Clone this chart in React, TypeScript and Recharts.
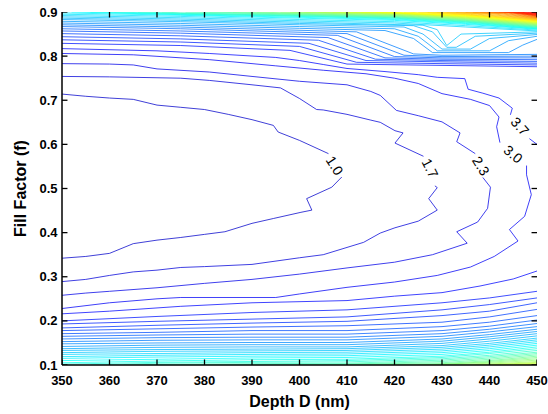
import React from "react";
import { LineChart, Line, XAxis, YAxis, ReferenceDot } from "recharts";

type Pt = [number, number | null];
type Contour = { k: number; pts: Pt[] };

const depthTicks = [350, 360, 370, 380, 390, 400, 410, 420, 430, 440, 450];
const fillTicks = [0.1, 0.2, 0.3, 0.4, 0.5, 0.6, 0.7, 0.8, 0.9];
// contour level index k (1.0, 1.7, 2.3, ...) mapped onto the jet colour map
const levelOffset = 5;
const levelSteps = 69;

// labelled C-shaped contours around the low region (null = label gap)
const innerContours: Contour[] = [
  { k: 0, pts: [[350, 0.714], [355, 0.709], [360, 0.705], [365, 0.702], [370, 0.689], [375, 0.684], [380, 0.679], [385, 0.668], [390, 0.656], [394.5, 0.643], [395.5, 0.628], [400, 0.609], [406.1, 0.579], [407.5, null], [408.9, 0.526], [406.8, 0.503], [401.5, 0.477], [402.6, 0.451], [400.3, 0.446], [394.5, 0.432], [390, 0.421], [384.3, 0.402], [380, 0.396], [375, 0.389], [370, 0.383], [365, 0.375], [360, 0.353], [355, 0.346], [350, 0.342]] },
  { k: 1, pts: [[350, 0.754], [360, 0.753], [375, 0.75], [381, 0.745], [390, 0.735], [396, 0.728], [400, 0.704], [403.6, 0.679], [405, 0.678], [410, 0.668], [415, 0.655], [417, 0.65], [420.1, 0.631], [421.8, 0.626], [420.1, 0.603], [426.1, 0.573], [427.5, null], [428.5, 0.506], [429, 0.502], [427.2, 0.477], [429, 0.451], [425, 0.426], [420.1, 0.411], [417, 0.399], [413.5, 0.378], [405, 0.35], [400, 0.343], [390, 0.328], [380, 0.323], [375, 0.321], [370, 0.315], [365, 0.311], [360, 0.303], [355, 0.294], [350, 0.289]] },
  { k: 2, pts: [[350, 0.783], [360, 0.782], [365, 0.78], [370, 0.771], [381, 0.764], [390, 0.754], [400, 0.743], [410, 0.735], [415, 0.72], [417, 0.711], [420.4, 0.677], [425, 0.665], [430, 0.651], [433.8, 0.626], [433.1, 0.606], [437, 0.579], [438, null], [438.6, 0.525], [440.2, 0.503], [439.6, 0.455], [437.5, 0.424], [433.1, 0.402], [435.3, 0.376], [428, 0.35], [420, 0.333], [410, 0.32], [400, 0.306], [390, 0.294], [380, 0.285], [370, 0.275], [360, 0.267], [355, 0.263], [350, 0.258]] },
  { k: 3, pts: [[350, 0.806], [365, 0.803], [381, 0.792], [395, 0.778], [405, 0.768], [414, 0.76], [420, 0.75], [425, 0.738], [430, 0.715], [436, 0.702], [440, 0.688], [442, 0.662], [441.5, 0.64], [442.2, 0.604], [445, null], [447.8, 0.552], [447.8, 0.531], [448.8, 0.486], [447.4, 0.437], [444.2, 0.407], [446, 0.381], [441, 0.346], [436, 0.322], [429, 0.303], [420, 0.288], [410, 0.276], [400, 0.261], [395, 0.253], [375, 0.253], [370, 0.25], [360, 0.241], [350, 0.228]] },
  { k: 4, pts: [[350, 0.817], [370, 0.812], [381, 0.806], [395, 0.797], [400, 0.79], [405, 0.781], [410, 0.772], [418, 0.765], [425, 0.758], [429, 0.752], [434.8, 0.749], [435.5, 0.725], [438.6, 0.716], [442, 0.705], [444.8, 0.682], [444.4, 0.667], [446.5, null], [448.4, 0.613], [450, 0.6]] },
  { k: 4, pts: [[350, 0.216], [360, 0.222], [375, 0.233], [390, 0.241], [410, 0.246], [420, 0.256], [430, 0.264], [438, 0.279], [445, 0.295], [450, 0.313]] },
];

// upper band: lines from the left edge, dropping into the 0.78-0.80 band or chevrons at right
const upperBand: Contour[] = [
  { k: 5, pts: [[350, 0.829], [375, 0.824], [398, 0.813], [410, 0.782], [430, 0.779], [450, 0.776]] },
  { k: 6, pts: [[350, 0.837], [375, 0.832], [400, 0.822], [412, 0.786], [430, 0.783], [450, 0.78]] },
  { k: 7, pts: [[350, 0.844], [375, 0.839], [402, 0.829], [414, 0.79], [430, 0.787], [450, 0.784]] },
  { k: 8, pts: [[350, 0.851], [375, 0.846], [404, 0.836], [416, 0.793], [430, 0.79], [450, 0.788]] },
  { k: 9, pts: [[350, 0.857], [375, 0.852], [406, 0.842], [418, 0.796], [430, 0.793], [450, 0.792]] },
  { k: 10, pts: [[350, 0.862], [375, 0.857], [408, 0.847], [420, 0.799], [430, 0.796], [450, 0.796]] },
  { k: 11, pts: [[350, 0.867], [375, 0.862], [410, 0.851], [422, 0.802], [430, 0.799], [450, 0.8]] },
  { k: 12, pts: [[350, 0.871], [375, 0.866], [412, 0.855], [424, 0.805], [430, 0.802], [450, 0.804]] },
  { k: 13, pts: [[350, 0.875], [375, 0.87], [400, 0.863], [418, 0.858], [424, 0.84], [428, 0.808], [444, 0.808], [447, 0.825], [450, 0.838]] },
  { k: 14, pts: [[350, 0.879], [375, 0.874], [400, 0.867], [420, 0.862], [425, 0.845], [429, 0.812], [440, 0.812], [444, 0.835], [450, 0.845]] },
  { k: 15, pts: [[350, 0.883], [375, 0.878], [400, 0.871], [422, 0.866], [426, 0.85], [430, 0.816], [436, 0.816], [440, 0.84], [450, 0.849]] },
  { k: 16, pts: [[350, 0.886], [375, 0.881], [400, 0.874], [424, 0.869], [428, 0.855], [431, 0.82], [433, 0.82], [437, 0.845], [450, 0.852]] },
  { k: 17, pts: [[350, 0.889], [375, 0.884], [400, 0.877], [426, 0.87], [429, 0.86], [431, 0.824], [434, 0.85], [450, 0.855]] },
  { k: 18, pts: [[350, 0.892], [375, 0.887], [400, 0.88], [420, 0.875], [435, 0.866], [450, 0.857]] },
  { k: 19, pts: [[350, 0.895], [375, 0.89], [400, 0.883], [420, 0.878], [435, 0.869], [450, 0.859]] },
  { k: 20, pts: [[350, 0.898], [375, 0.8925], [400, 0.886], [420, 0.881], [435, 0.872], [450, 0.861]] },
];

// high levels entering from the top edge and leaving at the right edge
const topEdge: Contour[] = [
  { k: 21, pts: [[352, 0.9], [375, 0.894], [400, 0.888], [420, 0.883], [435, 0.874], [450, 0.862]] },
  { k: 22, pts: [[356, 0.9], [375, 0.895], [400, 0.89], [420, 0.8845], [435, 0.8755], [450, 0.863]] },
  { k: 23, pts: [[361, 0.9], [375, 0.896], [400, 0.891], [420, 0.886], [435, 0.877], [450, 0.864]] },
  { k: 24, pts: [[366, 0.9], [375, 0.897], [400, 0.892], [420, 0.887], [435, 0.878], [450, 0.865]] },
  { k: 25, pts: [[371, 0.9], [375, 0.898], [400, 0.893], [420, 0.888], [435, 0.879], [450, 0.866]] },
  { k: 26, pts: [[376, 0.9], [400, 0.894], [420, 0.889], [435, 0.88], [450, 0.867]] },
  { k: 27, pts: [[381, 0.9], [400, 0.895], [420, 0.89], [435, 0.881], [450, 0.868]] },
  { k: 28, pts: [[386, 0.9], [400, 0.896], [420, 0.891], [435, 0.882], [450, 0.869]] },
  { k: 29, pts: [[391, 0.9], [400, 0.897], [420, 0.892], [435, 0.883], [450, 0.87]] },
  { k: 30, pts: [[396, 0.9], [400, 0.8985], [420, 0.893], [435, 0.884], [450, 0.871]] },
  { k: 31, pts: [[398, 0.9], [420, 0.894], [435, 0.885], [450, 0.872]] },
  { k: 32, pts: [[401, 0.9], [420, 0.895], [435, 0.886], [450, 0.873]] },
  { k: 33, pts: [[404, 0.9], [420, 0.896], [435, 0.887], [450, 0.874]] },
  { k: 34, pts: [[407, 0.9], [420, 0.897], [435, 0.888], [450, 0.875]] },
  { k: 35, pts: [[410, 0.9], [420, 0.8975], [435, 0.889], [450, 0.876]] },
  { k: 36, pts: [[413, 0.9], [420, 0.898], [435, 0.89], [450, 0.877]] },
  { k: 37, pts: [[416, 0.9], [435, 0.891], [450, 0.878]] },
  { k: 38, pts: [[419, 0.9], [435, 0.892], [450, 0.879]] },
  { k: 39, pts: [[422, 0.9], [435, 0.893], [450, 0.88]] },
  { k: 40, pts: [[425, 0.9], [435, 0.894], [450, 0.881]] },
  { k: 41, pts: [[427, 0.9], [436, 0.8945], [450, 0.882]] },
  { k: 42, pts: [[429, 0.9], [437.5, 0.895], [450, 0.883]] },
  { k: 43, pts: [[431, 0.9], [439, 0.8955], [450, 0.884]] },
  { k: 44, pts: [[433, 0.9], [440.5, 0.896], [450, 0.885]] },
  { k: 45, pts: [[435, 0.9], [442, 0.8965], [450, 0.886]] },
  { k: 46, pts: [[436.5, 0.9], [443, 0.897], [450, 0.887]] },
  { k: 47, pts: [[438, 0.9], [444, 0.8975], [450, 0.888]] },
  { k: 48, pts: [[439.5, 0.9], [445, 0.898], [450, 0.889]] },
  { k: 49, pts: [[441, 0.9], [446, 0.8985], [450, 0.89]] },
  { k: 50, pts: [[442, 0.9], [447, 0.899], [450, 0.891]] },
  { k: 51, pts: [[443, 0.9], [450, 0.892]] },
  { k: 52, pts: [[444, 0.9], [450, 0.893]] },
  { k: 53, pts: [[445, 0.9], [450, 0.894]] },
  { k: 54, pts: [[446, 0.9], [450, 0.895]] },
  { k: 55, pts: [[447, 0.9], [450, 0.896]] },
  { k: 56, pts: [[448, 0.9], [450, 0.897]] },
  { k: 57, pts: [[449, 0.9], [450, 0.898]] },
];

// lower band: f read at these depths for each level
const lowerCols = [350, 370, 390, 410, 430, 440, 450];
const lowerBand: { k: number; f: number[] }[] = [
  { k: 5, f: [0.2, 0.21, 0.219, 0.225, 0.241, 0.252, 0.267] },
  { k: 6, f: [0.193, 0.199, 0.204, 0.209, 0.225, 0.237, 0.252] },
  { k: 7, f: [0.184, 0.19, 0.195, 0.199, 0.212, 0.222, 0.241] },
  { k: 8, f: [0.178, 0.182, 0.186, 0.189, 0.197, 0.209, 0.226] },
  { k: 9, f: [0.171, 0.174, 0.178, 0.178, 0.187, 0.197, 0.212] },
  { k: 10, f: [0.165, 0.168, 0.17, 0.17, 0.178, 0.188, 0.202] },
  { k: 11, f: [0.159, 0.162, 0.163, 0.163, 0.171, 0.181, 0.194] },
  { k: 12, f: [0.153, 0.156, 0.157, 0.157, 0.165, 0.175, 0.187] },
  { k: 13, f: [0.148, 0.15, 0.151, 0.151, 0.159, 0.169, 0.181] },
  { k: 14, f: [0.142, 0.145, 0.146, 0.146, 0.154, 0.164, 0.176] },
  { k: 15, f: [0.137, 0.14, 0.141, 0.141, 0.149, 0.159, 0.171] },
  { k: 16, f: [0.133, 0.135, 0.136, 0.137, 0.144, 0.154, 0.166] },
  { k: 17, f: [0.128, 0.131, 0.132, 0.133, 0.14, 0.149, 0.161] },
  { k: 18, f: [0.124, 0.126, 0.128, 0.129, 0.136, 0.145, 0.157] },
  { k: 19, f: [0.119, 0.122, 0.124, 0.125, 0.132, 0.141, 0.153] },
  { k: 20, f: [0.115, 0.118, 0.12, 0.121, 0.128, 0.137, 0.149] },
  { k: 21, f: [0.11, 0.113, 0.116, 0.117, 0.124, 0.133, 0.145] },
  { k: 22, f: [0.105, 0.109, 0.112, 0.113, 0.12, 0.129, 0.141] },
  { k: 23, f: [0.102, 0.106, 0.108, 0.11, 0.117, 0.126, 0.137] },
];

// levels rising from the bottom edge towards the right edge
const bottomEdge: Contour[] = [
  { k: 24, pts: [[356, 0.1], [370, 0.104], [390, 0.106], [410, 0.107], [430, 0.114], [440, 0.122], [450, 0.133]] },
  { k: 25, pts: [[363, 0.1], [370, 0.101], [390, 0.103], [410, 0.104], [430, 0.111], [440, 0.119], [450, 0.129]] },
  { k: 26, pts: [[375, 0.1], [390, 0.101], [410, 0.102], [430, 0.108], [440, 0.116], [450, 0.126]] },
  { k: 27, pts: [[400, 0.1], [430, 0.105], [440, 0.113], [450, 0.123]] },
  { k: 28, pts: [[410, 0.1], [430, 0.103], [440, 0.11], [450, 0.12]] },
  { k: 29, pts: [[418, 0.1], [430, 0.101], [440, 0.108], [450, 0.117]] },
  { k: 30, pts: [[425, 0.1], [440, 0.106], [450, 0.114]] },
  { k: 31, pts: [[430, 0.1], [440, 0.104], [450, 0.111]] },
  { k: 32, pts: [[434, 0.1], [440, 0.102], [450, 0.108]] },
  { k: 33, pts: [[437, 0.1], [445, 0.103], [450, 0.106]] },
  { k: 34, pts: [[440, 0.1], [450, 0.104]] },
  { k: 35, pts: [[443, 0.1], [450, 0.102]] },
  { k: 36, pts: [[446, 0.1], [450, 0.101]] },
];

const contourLabels = [
  { text: "1.0", x: 407.4, f: 0.552, angle: 57 },
  { text: "1.7", x: 427.5, f: 0.546, angle: 63 },
  { text: "2.3", x: 438.2, f: 0.551, angle: 58 },
  { text: "3.0", x: 445, f: 0.578, angle: 40 },
  { text: "3.7", x: 446.4, f: 0.641, angle: 48 },
];

const FONT = '"Liberation Sans", Arial, Helvetica, sans-serif';

const jet = (t: number) => {
  const c = (v: number) => Math.round(255 * Math.max(0, Math.min(1, v)));
  const r = 1.5 - Math.abs(4 * t - 3);
  const g = 1.5 - Math.abs(4 * t - 2);
  const b = 1.5 - Math.abs(4 * t - 1);
  return `rgb(${c(r)},${c(g)},${c(b)})`;
};

const toRows = (pts: Pt[]) => pts.map(([x, f]) => ({ x, f }));

const series = [
  ...innerContours.map((c) => ({ k: c.k, rows: toRows(c.pts) })),
  ...upperBand.map((c) => ({ k: c.k, rows: toRows(c.pts) })),
  ...topEdge.map((c) => ({ k: c.k, rows: toRows(c.pts) })),
  ...lowerBand.map((c) => ({
    k: c.k,
    rows: lowerCols.map((x, i) => ({ x, f: c.f[i] })),
  })),
  ...bottomEdge.map((c) => ({ k: c.k, rows: toRows(c.pts) })),
];

// inward tick marks on all four sides, drawn after the contours so they sit on top
const xTickLen = 0.0125; // ~5.5px in fill-factor units
const yTickLen = 1.15; // ~5.5px in nm
const tickMarks = [
  ...depthTicks.map((x) => [{ x, f: 0.1 }, { x, f: 0.1 + xTickLen }]),
  ...depthTicks.map((x) => [{ x, f: 0.9 }, { x, f: 0.9 - xTickLen }]),
  ...fillTicks.map((f) => [{ x: 350, f }, { x: 350 + yTickLen, f }]),
  ...fillTicks.map((f) => [{ x: 450, f }, { x: 450 - yTickLen, f }]),
];

const XTitle = (props: any) => {
  const vb = props.viewBox || { x: 62, y: 365, width: 475, height: 49 };
  return (
    <text
      x={vb.x + vb.width / 2}
      y={vb.y + vb.height - 7}
      textAnchor="middle"
      fontFamily={FONT}
      fontWeight={700}
      fontSize={16}
      fill="#000"
    >
      Depth D (nm)
    </text>
  );
};

const YTitle = (props: any) => {
  const vb = props.viewBox || { x: 0, y: 12, width: 62, height: 353 };
  const x = vb.x + 20;
  const y = vb.y + vb.height / 2;
  return (
    <text
      x={x}
      y={y}
      transform={`rotate(-90 ${x} ${y})`}
      textAnchor="middle"
      dominantBaseline="central"
      fontFamily={FONT}
      fontWeight={700}
      fontSize={16}
      fill="#000"
    >
      Fill Factor (f)
    </text>
  );
};

const tickStyle = { fill: "#000", fontSize: 13, fontWeight: 700, fontFamily: FONT };
const frame = { stroke: "#000", strokeWidth: 1.5 };

export default function App() {
  return (
    <div style={{ position: "absolute", left: 0, top: 0, width: 548, height: 414, background: "#fff" }}>
      <LineChart
        width={548}
        height={414}
        margin={{ top: 12, right: 11, bottom: 0, left: 0 }}
        style={{ fontFamily: FONT }}
      >
        <XAxis
          xAxisId="b"
          type="number"
          dataKey="x"
          domain={[350, 450]}
          ticks={depthTicks}
          interval={0}
          allowDataOverflow
          height={49}
          tickSize={-5}
          tickMargin={16}
          axisLine={frame}
          tickLine={false}
          tick={tickStyle}
          label={(p: any) => <XTitle {...p} />}
        />
        <XAxis
          xAxisId="t"
          orientation="top"
          type="number"
          domain={[350, 450]}
          ticks={depthTicks}
          interval={0}
          allowDataOverflow
          height={0}
          axisLine={frame}
          tickLine={false}
          tick={false}
        />
        <YAxis
          yAxisId="l"
          type="number"
          domain={[0.1, 0.9]}
          ticks={fillTicks}
          interval={0}
          allowDataOverflow
          width={62}
          tickSize={-5}
          tickMargin={9.5}
          axisLine={frame}
          tickLine={false}
          tick={tickStyle}
          tickFormatter={(v: number) => v.toFixed(1)}
          label={(p: any) => <YTitle {...p} />}
        />
        <YAxis
          yAxisId="r"
          orientation="right"
          type="number"
          domain={[0.1, 0.9]}
          ticks={fillTicks}
          interval={0}
          allowDataOverflow
          width={0}
          axisLine={frame}
          tickLine={false}
          tick={false}
        />
        {series.map((s, i) => (
          <Line
            key={i}
            xAxisId="b"
            yAxisId="l"
            data={s.rows}
            dataKey="f"
            type="linear"
            stroke={jet((s.k + levelOffset) / levelSteps)}
            strokeWidth={0.75}
            dot={false}
            activeDot={false}
            connectNulls={false}
            isAnimationActive={false}
            legendType="none"
          />
        ))}
        {tickMarks.map((rows, i) => (
          <Line
            key={`tk${i}`}
            xAxisId="b"
            yAxisId="l"
            data={rows}
            dataKey="f"
            type="linear"
            stroke="#000"
            strokeWidth={1.3}
            dot={false}
            activeDot={false}
            isAnimationActive={false}
            legendType="none"
          />
        ))}
        {contourLabels.map((l) => (
          <ReferenceDot
            key={l.text}
            xAxisId="b"
            yAxisId="l"
            x={l.x}
            y={l.f}
            r={0}
            ifOverflow="visible"
            shape={(p: any) => (
              <text
                x={p.cx}
                y={p.cy}
                transform={`rotate(${l.angle} ${p.cx} ${p.cy})`}
                textAnchor="middle"
                dominantBaseline="central"
                fontFamily={FONT}
                fontSize={14}
                fill="#000"
              >
                {l.text}
              </text>
            )}
          />
        ))}
      </LineChart>
    </div>
  );
}
